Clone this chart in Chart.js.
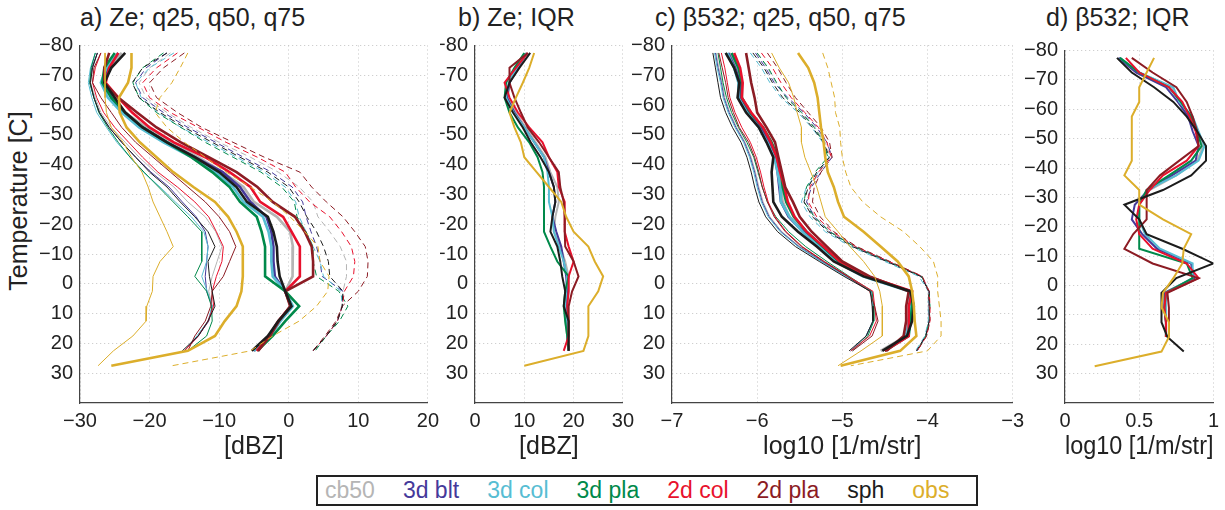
<!DOCTYPE html>
<html>
<head>
<meta charset="utf-8">
<title>Ze and beta532 profiles</title>
<script src="https://cdn.jsdelivr.net/npm/chart.js@4.4.1/dist/chart.umd.min.js"></script>
<style>
  body { margin: 0; width: 1225px; height: 510px; background: #fff; position: relative; overflow: hidden;
         font-family: "Liberation Sans", Arial, sans-serif; color: #222; }
  canvas { position: absolute; top: 0; }
  .panel-title { position: absolute; top: 5px; font-size: 25px; line-height: 1; white-space: nowrap; }
  #ytitle { position: absolute; left: 18px; top: 201px; font-size: 25px; line-height: 1; white-space: nowrap;
            transform: translate(-50%, -50%) rotate(-90deg); }
  #legend { position: absolute; left: 316px; top: 475px; width: 651px; height: 27px; border: 2px solid #222;
            display: flex; align-items: center; gap: 28px; padding-left: 7px; font-size: 23px; }
</style>
</head>
<body>
<div class="panel-title" style="left:80px">a) Ze; q25, q50, q75</div>
<div class="panel-title" style="left:458px">b) Ze; IQR</div>
<div class="panel-title" style="left:655px">c) β532; q25, q50, q75</div>
<div class="panel-title" style="left:1046px">d) β532; IQR</div>
<div id="ytitle">Temperature [C]</div>

<canvas id="panelA" width="445" height="465" style="left:0px"></canvas>
<canvas id="panelB" width="200" height="465" style="left:440px"></canvas>
<canvas id="panelC" width="400" height="465" style="left:630px"></canvas>
<canvas id="panelD" width="200" height="465" style="left:1025px"></canvas>

<div id="legend"></div>

<script>
// temperature bins (centre of each 5 degree bin)
const tempLevels = [-77.5, -72.5, -67.5, -62.5, -57.5, -52.5, -47.5, -42.5, -37.5, -32.5, -27.5,
                    -22.5, -17.5, -12.5, -7.5, -2.5, 2.5, 7.5, 12.5, 17.5, 22.5, 27.5];
const tempTicks = [-80, -70, -60, -50, -40, -30, -20, -10, 0, 10, 20, 30];
const zeTicks = [-30, -20, -10, 0, 10, 20];
const zeIqrTicks = [0, 10, 20, 30];
const betaTicks = [-7, -6, -5, -4, -3];
const betaIqrTicks = [0, 0.5, 1];

const seriesNames = ['cb50', '3d blt', '3d col', '3d pla', '2d col', '2d pla', 'sph', 'obs'];
const seriesColors = ['#b5b5b5', '#45399a', '#57bdd3', '#00894a', '#e8112d', '#8c1c24', '#1c1c1c', '#dcae2b'];

// a) Ze quantiles [dBZ], one row per series (models stop at 22.5, obs at 27.5)
const zeQ25 = [
  [-27.5, -28.2, -28.5, -27.8, -27, -25.5, -23.5, -21.5, -19.2, -16.5, -14.5, -12, -10.5, -9.6, -10.3, -11, -11.5, -11, -11.5, -13, -15],
  [-27.5, -28.3, -28.6, -28, -27.2, -25.8, -24, -22, -19.8, -17.2, -15.3, -13.3, -12, -11.6, -11.8, -12, -11.8, -11, -11.5, -13, -15],
  [-27.8, -28.5, -28.8, -28.3, -27.6, -26.2, -24.7, -22.8, -20.9, -18.5, -16.3, -14, -12.2, -11.6, -11.8, -12.5, -11.7, -11, -11.6, -13.2, -15],
  [-27.8, -28.4, -28.6, -28, -27.3, -26, -24.5, -22.8, -20.8, -18.7, -16.6, -14.5, -12.5, -12.5, -12.5, -13.5, -11.8, -11.1, -11, -11.8, -14.5],
  [-27, -27.8, -28.2, -27.6, -26.6, -25, -23, -21, -18.8, -16, -13.5, -11.5, -10.4, -9.4, -9.6, -10.4, -11, -10.8, -11.6, -13, -15],
  [-27, -28, -28.2, -27, -25.5, -24, -22, -19.5, -17, -14.5, -12, -10, -8.5, -7.6, -8.5, -9.4, -11, -11.2, -12, -13.5, -14.5],
  [-27.5, -28.2, -28.5, -28, -27.2, -25.8, -24, -22, -20, -17.5, -15.6, -13.5, -11.6, -10.6, -11.6, -11.4, -11, -10.6, -11.6, -13, -15.3],
  [-26.4, -26.4, -26.4, -26.4, -26.2, -25.5, -23.8, -22.6, -21.1, -20.2, -19.5, -18.5, -17.5, -16.6, -18.5, -19.5, -19.6, -20.4, -20.5, -22.4, -25.2, -27.4]
];
const zeQ50 = [
  [-24, -26, -26.5, -25.2, -23.5, -20.5, -17, -13, -9.5, -6.5, -5, -1.7, 0.2, 0.6, 0.6, 0.5, -0.5, 0.3, -1.5, -2.8, -5],
  [-24.5, -26, -26.5, -25.5, -23.8, -21, -17.5, -13.5, -9.5, -7, -5.5, -3.2, -2.5, -2.2, -2.2, -2, -0.5, 0.5, -1.3, -2.7, -5],
  [-24.5, -26.2, -27, -26, -24, -21.5, -18, -14, -10.5, -8, -6.5, -3.7, -2.9, -2.5, -2.5, -2.3, -0.5, 0.6, -1.2, -2.6, -5],
  [-25, -26.5, -26.8, -25.5, -23.5, -21, -17.5, -14, -11, -8.5, -7, -4.6, -3.9, -3.4, -3.4, -3.4, -0.5, 1.5, -0.5, -2.3, -4.5],
  [-24.5, -25.8, -26.3, -24.5, -22.5, -20, -16.5, -12, -8.5, -5.5, -4.1, -0.8, 0.4, 1.6, 1.6, 1.6, -0.5, 0.3, -1.5, -2.8, -4.6],
  [-25.8, -26.5, -26.5, -24.5, -21.8, -19, -15.5, -11.5, -7.5, -4.5, -2.3, 0.9, 2.3, 3.3, 3.5, 3.5, -0.5, 0.2, -1.4, -2.7, -4.4],
  [-23.5, -25.5, -26.5, -25, -23.5, -21, -17.5, -13.5, -10, -7.5, -6, -3, -2.2, -1.7, -1.6, -1.3, -0.5, 0.4, -1.5, -3, -5.3],
  [-22.6, -22.6, -23.1, -24.4, -24.3, -23.3, -21.4, -19, -16.6, -13.7, -10.6, -8.7, -7.5, -6.6, -6.6, -6.6, -6.8, -7.5, -9.2, -10.6, -14.5, -25.5]
];
const zeQ75 = [
  [-17, -20, -21.5, -20.5, -17.5, -14, -10, -5.5, -1.5, 1.5, 3.5, 4.2, 5.9, 7.4, 8.3, 8.3, 7.8, 7.6, 7, 5.4, 3.5],
  [-17.5, -20.5, -22, -21, -18, -14.5, -10.5, -6.5, -2.5, 0.5, 2, 2.5, 3.2, 4, 4.5, 4.8, 7.8, 7.7, 7, 5.4, 3.5],
  [-16.5, -20, -22, -21.2, -18.8, -15.5, -11.5, -7.5, -3.5, -0.5, 1, 1.5, 2.5, 3.5, 4.5, 5, 7.5, 7.7, 7, 5.4, 3.5],
  [-18, -21, -22.4, -21.5, -19, -15.5, -12, -8, -4, -1, 0.8, 1.2, 2.5, 3.5, 3.5, 4, 7.2, 8.5, 7.3, 5.4, 3.8],
  [-16, -19, -21, -20, -17, -13, -9, -4.5, -0.5, 1, 3, 5.9, 7.6, 9, 9.5, 9.3, 8, 7.7, 7, 5.4, 3.5],
  [-15, -18, -20, -19, -16, -12.5, -8, -3.5, 1.6, 3.3, 5.4, 7.8, 9.5, 11, 11.4, 11.3, 10, 7.7, 6.8, 5.2, 3.5],
  [-17.5, -21, -22.5, -21.5, -18.5, -15, -11, -7, -3, 0, 1.5, 2.6, 4, 5, 5.7, 5.9, 7.8, 7.7, 7, 5.4, 3.5],
  [-14.5, -15.6, -16.8, -18.5, -19.2, -17.5, -15, -12, -9, -5.5, -2.3, 0.2, 2.3, 4.2, 4.5, 5.8, 5.6, 4, 1.5, -2.3, -5.5, -16.8]
];

// b) Ze interquartile range [dBZ]
const zeIqr = [
  [10.3, 8.5, 7, 6.7, 8.3, 10.3, 12.3, 14.3, 15.3, 16.7, 17, 16.3, 16, 17.3, 18.3, 19, 19, 18.7, 18.3, 18.7, 19],
  [10.5, 8.7, 7, 6.5, 8, 10, 12, 14, 15, 16, 16.3, 15.7, 16.5, 17.5, 18, 18.5, 18.7, 18.5, 18.7, 18.7, 19],
  [10.5, 8.5, 6.8, 6.3, 7.8, 10, 12, 14, 14.7, 15, 15, 15.7, 16, 17, 18, 18.7, 18.5, 18.3, 18.7, 18.7, 19],
  [10, 8, 6.3, 6, 7, 8.7, 11, 12.7, 13.7, 14, 14, 14, 14, 15.3, 16.7, 19, 18.3, 18, 18.3, 18.7, 19],
  [10.7, 8.3, 6, 7, 8.7, 11, 13.7, 15, 16.7, 17, 18.2, 18.2, 18.2, 19, 20, 19, 19, 18.7, 19, 19, 18],
  [10.7, 7, 7, 8, 9.3, 10.7, 13, 15, 17, 17.3, 18, 18.2, 18.2, 18.3, 20, 21, 19.7, 19, 19, 19, 19],
  [11.2, 9, 7, 6, 7.7, 9.7, 11.3, 13.3, 15, 16, 16.3, 15.7, 15.3, 16.7, 17.3, 17.7, 18.3, 18, 19, 19, 19],
  [12, 11, 9.7, 8.3, 7, 8, 9.3, 10, 12.5, 15, 17.5, 18.5, 20, 23, 24.3, 26, 25, 23, 23, 23, 22, 10]
];

// c) beta532 quantiles [log10 1/m/str]
const betaQ25 = [
  [-6.48, -6.45, -6.41, -6.38, -6.32, -6.24, -6.14, -6.07, -6.02, -5.98, -5.93, -5.85, -5.71, -5.5, -5.23, -4.95, -4.66, -4.64, -4.64, -4.72, -4.9],
  [-6.49, -6.46, -6.42, -6.39, -6.33, -6.25, -6.15, -6.08, -6.03, -5.99, -5.94, -5.86, -5.72, -5.51, -5.24, -4.95, -4.66, -4.64, -4.64, -4.72, -4.9],
  [-6.5, -6.47, -6.43, -6.4, -6.34, -6.26, -6.16, -6.09, -6.04, -6.0, -5.95, -5.87, -5.73, -5.52, -5.25, -4.96, -4.66, -4.64, -4.64, -4.72, -4.9],
  [-6.46, -6.43, -6.4, -6.36, -6.3, -6.22, -6.12, -6.04, -5.99, -5.94, -5.88, -5.78, -5.63, -5.43, -5.18, -4.92, -4.65, -4.63, -4.63, -4.7, -4.88],
  [-6.42, -6.38, -6.35, -6.32, -6.26, -6.18, -6.08, -6.01, -5.96, -5.92, -5.87, -5.79, -5.66, -5.47, -5.21, -4.93, -4.64, -4.62, -4.6, -4.68, -4.9],
  [-6.45, -6.41, -6.37, -6.34, -6.28, -6.21, -6.1, -6.03, -5.98, -5.94, -5.88, -5.8, -5.67, -5.48, -5.22, -4.94, -4.68, -4.62, -4.58, -4.65, -4.88],
  [-6.52, -6.49, -6.46, -6.43, -6.37, -6.29, -6.19, -6.12, -6.07, -6.03, -5.98, -5.9, -5.76, -5.55, -5.27, -4.98, -4.67, -4.65, -4.64, -4.72, -4.92],
  [-5.83, -5.74, -5.63, -5.57, -5.53, -5.48, -5.48, -5.44, -5.37, -5.3, -5.25, -5.2, -5.05, -4.91, -4.75, -4.62, -4.56, -4.53, -4.53, -4.53, -4.78, -5.05]
];
const betaQ50 = [
  [-6.33, -6.25, -6.18, -6.18, -6.08, -5.95, -5.85, -5.78, -5.75, -5.72, -5.7, -5.62, -5.45, -5.25, -5.05, -4.72, -4.22, -4.2, -4.2, -4.25, -4.55],
  [-6.34, -6.26, -6.2, -6.2, -6.1, -5.96, -5.86, -5.79, -5.76, -5.74, -5.72, -5.63, -5.46, -5.26, -5.06, -4.73, -4.2, -4.18, -4.2, -4.25, -4.5],
  [-6.35, -6.27, -6.22, -6.22, -6.12, -5.98, -5.88, -5.8, -5.76, -5.73, -5.72, -5.62, -5.47, -5.27, -5.08, -4.76, -4.22, -4.2, -4.22, -4.25, -4.5],
  [-6.3, -6.22, -6.18, -6.18, -6.08, -5.93, -5.83, -5.76, -5.72, -5.7, -5.66, -5.57, -5.42, -5.23, -5.04, -4.72, -4.2, -4.18, -4.2, -4.22, -4.5],
  [-6.27, -6.2, -6.17, -6.18, -6.07, -5.93, -5.84, -5.77, -5.73, -5.68, -5.64, -5.56, -5.42, -5.22, -5.03, -4.7, -4.18, -4.22, -4.22, -4.22, -4.5],
  [-6.13, -6.1, -6.07, -6.03, -6.0, -5.89, -5.79, -5.75, -5.71, -5.67, -5.58, -5.5, -5.36, -5.18, -5.0, -4.68, -4.22, -4.25, -4.25, -4.28, -4.48],
  [-6.37, -6.27, -6.21, -6.23, -6.13, -5.98, -5.89, -5.81, -5.83, -5.82, -5.81, -5.71, -5.52, -5.3, -5.1, -4.75, -4.2, -4.16, -4.18, -4.24, -4.53],
  [-5.52, -5.4, -5.33, -5.29, -5.27, -5.25, -5.22, -5.2, -5.17, -5.1, -5.05, -4.98, -4.75, -4.55, -4.35, -4.22, -4.18, -4.16, -4.15, -4.13, -4.32, -5.02]
];
const betaQ75 = [
  [-6.0, -5.88, -5.78, -5.66, -5.47, -5.32, -5.2, -5.14, -5.27, -5.37, -5.42, -5.32, -5.14, -4.85, -4.46, -4.07, -3.98, -3.98, -3.98, -4.02, -4.13],
  [-6.02, -5.9, -5.8, -5.64, -5.45, -5.3, -5.18, -5.12, -5.25, -5.36, -5.42, -5.33, -5.15, -4.86, -4.47, -4.07, -3.98, -3.98, -3.98, -4.02, -4.12],
  [-6.08, -5.95, -5.85, -5.72, -5.52, -5.36, -5.23, -5.16, -5.28, -5.42, -5.48, -5.38, -5.2, -4.9, -4.5, -4.1, -3.99, -3.99, -3.99, -4.03, -4.14],
  [-6.0, -5.87, -5.77, -5.66, -5.48, -5.33, -5.22, -5.17, -5.32, -5.42, -5.45, -5.33, -5.15, -4.86, -4.46, -4.07, -3.98, -3.97, -3.98, -4.02, -4.12],
  [-5.95, -5.82, -5.72, -5.6, -5.44, -5.28, -5.18, -5.13, -5.28, -5.38, -5.4, -5.3, -5.12, -4.84, -4.45, -4.06, -3.98, -3.97, -3.97, -4.01, -4.12],
  [-5.88, -5.76, -5.66, -5.55, -5.4, -5.25, -5.15, -5.12, -5.25, -5.33, -5.35, -5.26, -5.1, -4.83, -4.44, -4.06, -3.99, -3.98, -3.97, -4.01, -4.12],
  [-6.05, -5.92, -5.82, -5.7, -5.5, -5.35, -5.22, -5.15, -5.3, -5.4, -5.45, -5.35, -5.17, -4.88, -4.48, -4.08, -3.98, -3.98, -3.98, -4.02, -4.13],
  [-5.23, -5.17, -5.13, -5.09, -5.08, -5.03, -5.02, -5.0, -4.96, -4.9, -4.76, -4.55, -4.28, -4.09, -3.93, -3.88, -3.88, -3.86, -3.84, -3.84, -4.0, -4.9]
];

// d) beta532 interquartile range
const betaIqr = [
  [0.37, 0.5, 0.72, 0.77, 0.84, 0.89, 0.93, 0.89, 0.75, 0.57, 0.5, 0.5, 0.54, 0.63, 0.85, 0.86, 0.67, 0.67, 0.68, 0.68, null],
  [0.36, 0.48, 0.68, 0.76, 0.83, 0.86, 0.9, 0.88, 0.72, 0.56, 0.47, 0.45, 0.52, 0.62, 0.85, 0.87, 0.67, 0.67, 0.68, 0.68, null],
  [0.37, 0.5, 0.73, 0.77, 0.86, 0.9, 0.94, 0.9, 0.75, 0.55, 0.5, 0.5, 0.54, 0.64, 0.86, 0.86, 0.68, 0.68, 0.68, 0.68, null],
  [0.37, 0.5, 0.7, 0.78, 0.85, 0.89, 0.92, 0.85, 0.7, 0.55, 0.5, 0.5, 0.5, 0.5, 0.82, 0.86, 0.68, 0.67, 0.68, 0.68, null],
  [0.41, 0.5, 0.7, 0.79, 0.84, 0.88, 0.9, 0.82, 0.66, 0.57, 0.5, 0.48, 0.5, 0.59, 0.82, 0.9, 0.68, 0.67, 0.68, 0.68, null],
  [0.45, 0.59, 0.75, 0.82, 0.86, 0.89, 0.9, 0.77, 0.64, 0.55, 0.55, 0.55, 0.46, 0.4, 0.59, 0.9, 0.69, 0.7, 0.7, 0.7, null],
  [0.35, 0.45, 0.6, 0.73, 0.82, 0.89, 0.95, 0.95, 0.85, 0.66, 0.4, 0.5, 0.55, 0.79, 1.0, 0.75, 0.65, 0.65, 0.65, 0.69, 0.8],
  [0.6, 0.55, 0.5, 0.5, 0.45, 0.45, 0.45, 0.45, 0.4, 0.5, 0.5, 0.66, 0.85, 0.8, 0.79, 0.73, 0.66, 0.65, 0.7, 0.7, 0.65, 0.2]
];

Chart.defaults.font.family = '"Liberation Sans", Arial, sans-serif';
Chart.defaults.color = '#222';

const tickFont = { size: 20 };
const axisTitleFont = { size: 25 };
const gridColor = '#c4c4c4';
const axisColor = '#444';

const fmt = v => String(v).replace('-', '\u2212');

function toPoints(row) {
  return row.map((v, i) => ({ x: v, y: tempLevels[i] })).filter(p => p.x !== null);
}

// kind: q25 thin, q50 thick, q75 dashed, iqr medium
function profile(row, i, kind) {
  const rank = { q50: 0, iqr: 0, q25: 1, q75: 2 }[kind];
  return {
    label: seriesNames[i] + ' ' + kind,
    data: toPoints(row),
    showLine: true,
    borderColor: seriesColors[i],
    backgroundColor: seriesColors[i],
    borderWidth: kind === 'q50' ? 2.6 : kind === 'iqr' ? 2 : 1,
    borderDash: kind === 'q75' ? [6, 4] : [],
    pointRadius: 0,
    order: (seriesNames.length - 1 - i) * 3 + rank
  };
}

function buildPanel(id, cfg) {
  new Chart(document.getElementById(id), {
    type: 'scatter',
    data: { datasets: cfg.datasets },
    options: {
      responsive: false,
      animation: false,
      events: [],
      layout: { padding: { top: cfg.top, right: cfg.right, left: 0, bottom: 0 } },
      plugins: { legend: { display: false }, tooltip: { enabled: false } },
      scales: {
        x: {
          type: 'linear',
          min: cfg.xTicks[0],
          max: cfg.xTicks[cfg.xTicks.length - 1],
          afterBuildTicks: s => { s.ticks = cfg.xTicks.map(v => ({ value: v })); },
          afterFit: s => { s.height = 62; },
          ticks: { callback: fmt, font: tickFont, color: '#222', padding: 6, maxRotation: 0, autoSkip: false },
          grid: { color: gridColor, drawTicks: false },
          border: { color: axisColor, width: 1.2, dash: [1, 3] },
          title: { display: true, text: cfg.xTitle, font: axisTitleFont, color: '#222', padding: { top: 0, bottom: 3 } }
        },
        y: {
          type: 'linear',
          min: -80,
          max: 40,
          reverse: true,
          afterBuildTicks: s => { s.ticks = tempTicks.map(v => ({ value: v })); },
          afterFit: s => { s.width = cfg.yWidth; },
          ticks: { callback: fmt, font: tickFont, color: '#222', padding: 7, autoSkip: false },
          grid: { color: gridColor, drawTicks: false },
          border: { color: axisColor, width: 1.2, dash: [1, 3] }
        }
      }
    }
  });
}

function quantileSets(q25, q50, q75) {
  const sets = [];
  seriesNames.forEach((name, i) => {
    sets.push(profile(q25[i], i, 'q25'), profile(q50[i], i, 'q50'), profile(q75[i], i, 'q75'));
  });
  return sets;
}

buildPanel('panelA', {
  datasets: quantileSets(zeQ25, zeQ50, zeQ75),
  xTicks: zeTicks, xTitle: '[dBZ]',
  top: 45.5, right: 17, yWidth: 80
});
buildPanel('panelB', {
  datasets: zeIqr.map((row, i) => profile(row, i, 'iqr')),
  xTicks: zeIqrTicks, xTitle: '[dBZ]',
  top: 45.5, right: 15, yWidth: 35
});
buildPanel('panelC', {
  datasets: quantileSets(betaQ25, betaQ50, betaQ75),
  xTicks: betaTicks, xTitle: 'log10 [1/m/str]',
  top: 45.5, right: 13, yWidth: 42
});
buildPanel('panelD', {
  datasets: betaIqr.map((row, i) => profile(row, i, 'iqr')),
  xTicks: betaIqrTicks, xTitle: 'log10 [1/m/str]',
  top: 50.5, right: 11, yWidth: 40
});

// text-only legend, coloured like the lines
const legend = document.getElementById('legend');
seriesNames.forEach((name, i) => {
  const span = document.createElement('span');
  span.textContent = name;
  span.style.color = seriesColors[i];
  legend.appendChild(span);
});
</script>
</body>
</html>
